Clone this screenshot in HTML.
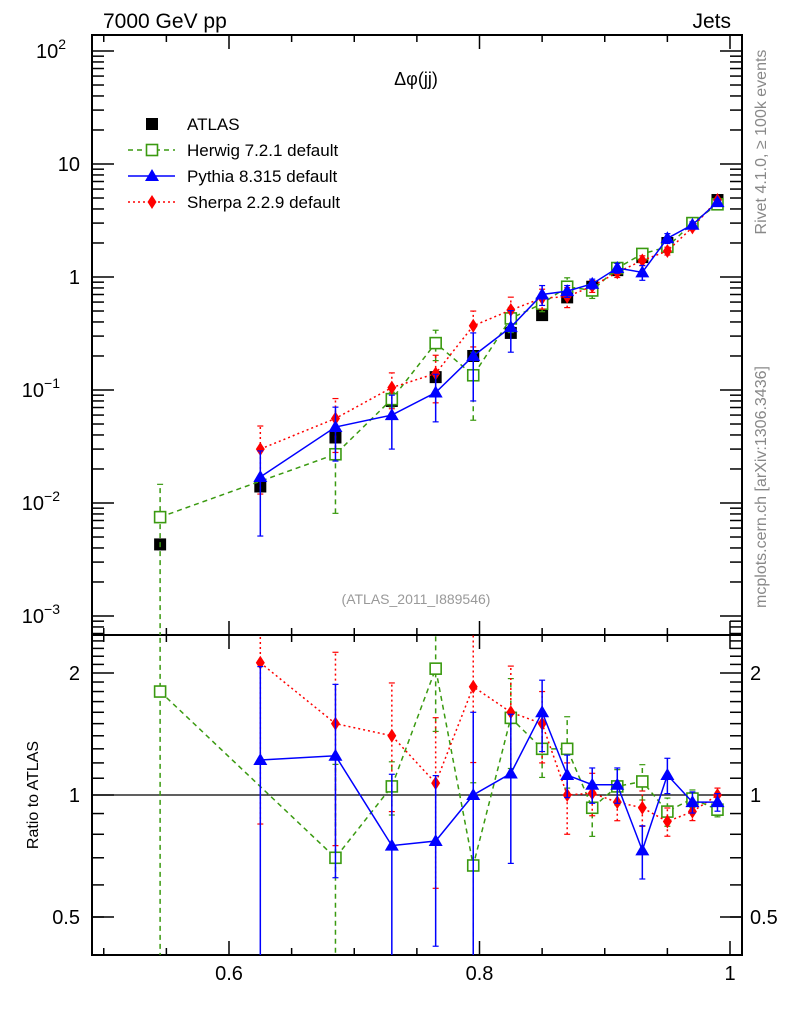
<!DOCTYPE html>
<html><head><meta charset="utf-8"><style>
html,body{margin:0;padding:0;background:#fff;overflow:hidden;width:786px;height:1024px}
svg{display:block}
svg text{font-family:"Liberation Sans",sans-serif}
</style></head><body>
<svg id="c" width="786" height="1024" xmlns="http://www.w3.org/2000/svg"></svg>
<script>
const xs=[0.545,0.625,0.685,0.73,0.765,0.795,0.825,0.85,0.87,0.89,0.91,0.93,0.95,0.97,0.99];
const atlas=[0.0043,0.014,0.038,0.08,0.13,0.2,0.32,0.46,0.66,0.82,1.15,1.5,2.0,3.0,4.8];
const atlasErr=[0.1,0.1,0.1,0.08,0.06,0.06,0.06,0.05,0.05,0.04,0.04,0.04,0.04,0.03,0.03];
const herwig=[0.0075,null,0.027,0.083,0.26,0.135,0.43,0.58,0.82,0.76,1.2,1.6,1.85,3.0,4.4];
const herwigErr=[0.95,0,0.7,0.15,0.3,0.6,0.25,0.15,0.2,0.15,0.1,0.1,0.08,0.05,0.04];
const herwigRatio=[1.8,null,0.70,1.05,2.05,0.67,1.55,1.3,1.3,0.93,1.05,1.08,0.91,0.98,0.92];
const pythia=[null,0.017,0.047,0.06,0.095,0.2,0.36,0.7,0.75,0.87,1.2,1.1,2.2,2.9,4.6];
const pythiaErr=[0,0.7,0.5,0.5,0.45,0.6,0.4,0.2,0.12,0.1,0.1,0.15,0.1,0.06,0.05];
const pythiaRatio=[null,1.22,1.25,0.75,0.77,1.0,1.13,1.6,1.12,1.06,1.06,0.73,1.12,0.96,0.96];
const sherpa=[null,0.03,0.056,0.105,0.14,0.37,0.51,0.65,0.67,0.83,1.1,1.4,1.7,2.75,4.8];
const sherpaErr=[0,0.6,0.5,0.35,0.45,0.35,0.3,0.2,0.2,0.12,0.1,0.1,0.08,0.05,0.04];
const sherpaRatio=[null,2.12,1.5,1.4,1.07,1.85,1.6,1.5,1.0,1.01,0.96,0.93,0.86,0.91,1.0];
const xTicks=[0.6,0.8,1];
const xTickLabels=["0.6","0.8","1"];
const rTicks=[0.5,1,2];

const L=92,R=742,T=35,M=635,B=955;
const X=v=>229+(v-0.6)*1252.5;
const Y=v=>277-Math.log10(v)*113;
const YR=v=>795-Math.log2(v)*122;
const svg=document.getElementById('c');
const NS='http://www.w3.org/2000/svg';
function el(t,a,p){const e=document.createElementNS(NS,t);for(const k in a)e.setAttribute(k,a[k]);(p||svg).appendChild(e);return e;}
function txt(s,a,name){const e=el('text',a);e.textContent=s;return e;}
const clipD=el('defs',{});
const c1=el('clipPath',{id:'cm'},clipD);el('rect',{x:L,y:T,width:R-L,height:M-T},c1);
const c2=el('clipPath',{id:'cr'},clipD);el('rect',{x:L,y:M,width:R-L,height:B-M},c2);

const f1=el('rect',{x:L,y:T,width:R-L,height:M-T,fill:'none',stroke:'#000','stroke-width':2});

const f2=el('rect',{x:L,y:M,width:R-L,height:B-M,fill:'none',stroke:'#000','stroke-width':2});


for(let v=0.5;v<=1.0001;v+=0.05){const x=X(v);const major=Math.abs(v*10-Math.round(v*10))<1e-6&&Math.round(v*10)%2==0;const len=major?14:7;
 for(const [y0,y1] of [[T,M],[M,B]]){el('line',{x1:x,x2:x,y1:y1,y2:y1-len,stroke:'#000','stroke-width':1.5});el('line',{x1:x,x2:x,y1:y0,y2:y0+len,stroke:'#000','stroke-width':1.5});}}
xTicks.forEach((v,i)=>txt(xTickLabels[i],{x:X(v),y:980,'font-size':20,'text-anchor':'middle'},'x-tick-label'));
for(let d=-4;d<=2;d++){for(let m=1;m<10;m++){const v=m*Math.pow(10,d);const y=Y(v);if(y<T||y>M)continue;const len=m==1?22:12;
 el('line',{x1:L,x2:L+len,y1:y,y2:y,stroke:'#000','stroke-width':1.5});el('line',{x1:R,x2:R-len,y1:y,y2:y,stroke:'#000','stroke-width':1.5});}}
[[2,'10','2'],[1,'10',''],[0,'1',''],[-1,'10','−1'],[-2,'10','−2'],[-3,'10','−3']].forEach(([d,b,e])=>{
 const t=txt(b,{x:e?68:80,y:Y(Math.pow(10,d))+7,'font-size':20,'text-anchor':'end'},'y-tick-label');
 if(e){const s=el('tspan',{dy:-9,'font-size':14},t);s.textContent=e;t.setAttribute('x',e.length>1?60:66);}});
for(const v of [0.5,0.6,0.7,0.8,0.9,1.1,1.2,1.3,1.4,1.5,1.6,1.7,1.8,1.9,2.1,2.2,2.3,2.4]){const y=YR(v);
 el('line',{x1:L,x2:L+12,y1:y,y2:y,stroke:'#000','stroke-width':1.5});el('line',{x1:R,x2:R-12,y1:y,y2:y,stroke:'#000','stroke-width':1.5});}
rTicks.forEach(v=>{const y=YR(v);el('line',{x1:L,x2:L+22,y1:y,y2:y,stroke:'#000','stroke-width':1.5});el('line',{x1:R,x2:R-22,y1:y,y2:y,stroke:'#000','stroke-width':1.5});
 txt(String(v),{x:80,y:y+7,'font-size':20,'text-anchor':'end'},'ratio-tick-label');txt(String(v),{x:750,y:y+7,'font-size':20},'ratio-tick-label-right');});
const one=el('line',{x1:L,x2:R,y1:YR(1),y2:YR(1),stroke:'#000','stroke-width':1.3});

function marker(g,kind,x,y,col){
 if(kind=='sq')el('rect',{x:x-6,y:y-6,width:12,height:12,fill:'#000'},g);
 if(kind=='osq')el('rect',{x:x-5.5,y:y-5.5,width:11,height:11,fill:'#fff',stroke:col,'stroke-width':1.6},g);
 if(kind=='tri')el('path',{d:`M${x},${y-7}L${x+7},${y+5}L${x-7},${y+5}Z`,fill:col},g);
 if(kind=='dia')el('path',{d:`M${x},${y-7}L${x+4.5},${y}L${x},${y+7}L${x-4.5},${y}Z`,fill:col},g);
}
function series(name,vals,err,col,dash,kind,Yf,clip,panel){
 const g=el('g',{'clip-path':`url(#${clip})`});
 const pts=[];vals.forEach((v,i)=>{if(v!=null)pts.push([X(xs[i]),Yf(v),v,err[i]]);});
 if(dash!==null)el('polyline',{points:pts.map(p=>p[0]+','+p[1]).join(' '),fill:'none',stroke:col,'stroke-width':1.5,'stroke-dasharray':dash},g);
 pts.forEach(p=>{const lo=Math.max(p[2]*(1-p[3]),1e-6),hi=p[2]*(1+p[3]);
  el('line',{x1:p[0],x2:p[0],y1:Yf(lo),y2:Yf(hi),stroke:col,'stroke-width':1.5,'stroke-dasharray':dash||''},g);
  el('line',{x1:p[0]-3,x2:p[0]+3,y1:Yf(hi),y2:Yf(hi),stroke:col,'stroke-width':1.2},g);
  el('line',{x1:p[0]-3,x2:p[0]+3,y1:Yf(lo),y2:Yf(lo),stroke:col,'stroke-width':1.2},g);
  marker(g,kind,p[0],p[1],col);});
}
series('atlas-data',atlas,atlasErr,'#000',null,'sq',Y,'cm','main');
series('herwig-series',herwig,herwigErr,'#3a9a10','5,4','osq',Y,'cm','main');
series('sherpa-series',sherpa,sherpaErr,'#f00','2,3','dia',Y,'cm','main');
series('pythia-series',pythia,pythiaErr,'#00f','','tri',Y,'cm','main');
series('herwig-ratio',herwigRatio,herwigErr,'#3a9a10','5,4','osq',YR,'cr','ratio');
series('sherpa-ratio',sherpaRatio,sherpaErr,'#f00','2,3','dia',YR,'cr','ratio');
series('pythia-ratio',pythiaRatio,pythiaErr,'#00f','','tri',YR,'cr','ratio');

const lg=[['ATLAS','#000',null,'sq'],['Herwig 7.2.1 default','#3a9a10','5,4','osq'],['Pythia 8.315 default','#00f','','tri'],['Sherpa 2.2.9 default','#f00','2,3','dia']];
lg.forEach((e,i)=>{const y=124+i*26;const g=el('g',{});
 if(e[2]!==null)el('line',{x1:128,x2:175,y1:y,y2:y,stroke:e[1],'stroke-width':1.5,'stroke-dasharray':e[2]},g);
 marker(g,e[3],152,y,e[1]);const t=el('text',{x:187,y:y+6,'font-size':17},g);t.textContent=e[0];});
txt('7000 GeV pp',{x:103,y:28,'font-size':21},'energy-label');
txt('Jets',{x:731,y:28,'font-size':21,'text-anchor':'end'},'process-label');
txt('Δφ(jj)',{x:416,y:85,'font-size':18,'text-anchor':'middle'},'plot-title');
txt('(ATLAS_2011_I889546)',{x:416,y:604,'font-size':14,fill:'#999','text-anchor':'middle'},'analysis-id');
txt('Ratio to ATLAS',{x:38,y:795,'font-size':16,'text-anchor':'middle',transform:'rotate(-90 38 795)'},'ratio-y-axis-title');
txt('Rivet 4.1.0, ≥ 100k events',{x:766,y:142,'font-size':16,fill:'#888','text-anchor':'middle',transform:'rotate(-90 766 142)'},'rivet-version-label');
txt('mcplots.cern.ch [arXiv:1306.3436]',{x:766,y:487,'font-size':16,fill:'#888','text-anchor':'middle',transform:'rotate(-90 766 487)'},'mcplots-credit');
</script>
</body></html>
